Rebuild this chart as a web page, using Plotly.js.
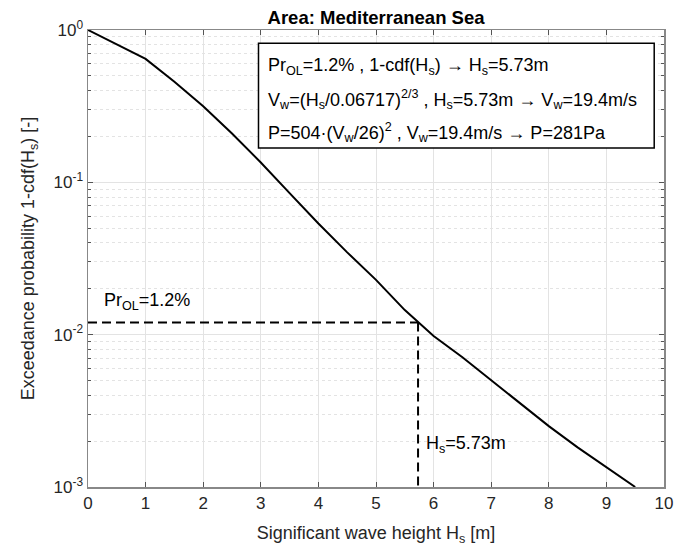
<!DOCTYPE html>
<html>
<head>
<meta charset="utf-8">
<script src="https://cdn.plot.ly/plotly-3.0.1.min.js"></script>
<style>html,body{margin:0;padding:0;background:#fff}#chart{width:690px;height:547px}</style>
</head>
<body>
<div id="chart"></div>
<script>
// Exceedance curve
const hs = [0, 1, 1.5, 2, 2.5, 3, 3.5, 4, 4.5, 5, 5.5, 6, 6.5, 7, 7.5, 8, 8.5, 9, 9.5];
const exceed = [1, 0.646, 0.457, 0.316, 0.209, 0.135, 0.085, 0.0537, 0.0347, 0.0229, 0.0145, 0.0098, 0.0071, 0.0050, 0.00355, 0.00251, 0.00182, 0.00135, 0.001];
const prOL = 0.012;
const hsOL = 5.73;
const yTickVals = [0.001, 0.01, 0.1, 1];
const yTickText = ['10<sup>-3</sup>', '10<sup>-2</sup>', '10<sup>-1</sup>', '10<sup>0</sup>'];
const xTickVals = [0, 1, 2, 3, 4, 5, 6, 7, 8, 9, 10];
const boxLines = [
  'Pr<sub>OL</sub>=1.2% , 1-cdf(H<sub>s</sub>) \u2192 H<sub>s</sub>=5.73m',
  'V<sub>w</sub>=(H<sub>s</sub>/0.06717)<sup>2/3</sup> , H<sub>s</sub>=5.73m \u2192 V<sub>w</sub>=19.4m/s',
  'P=504\u00b7(V<sub>w</sub>/26)<sup>2</sup> , V<sub>w</sub>=19.4m/s \u2192 P=281Pa'
];

const font = 'Liberation Sans, Arial, sans-serif';
const traces = [
  {x: hs, y: exceed, mode: 'lines', line: {color: '#000', width: 2}, hoverinfo: 'skip'},
  {x: [0, hsOL], y: [prOL, prOL], mode: 'lines', line: {color: '#000', width: 2, dash: '9px,5px'}},
  {x: [hsOL, hsOL], y: [prOL, 0.001], mode: 'lines', line: {color: '#000', width: 2, dash: '9px,5px'}}
];

const boxL = 0.296, boxR = 0.983, boxT = 0.971, boxB = 0.742;
const annotations = boxLines.map((t, i) => ({
  xref: 'paper', yref: 'paper', x: boxL + 0.013, y: boxT - 0.05 - i * 0.073,
  xanchor: 'left', yanchor: 'middle', text: t, showarrow: false,
  font: {family: font, size: 18, color: '#000'}
}));
annotations.push({
  x: 0.25, y: Math.log10(0.0165), xref: 'x', yref: 'y', xanchor: 'left', yanchor: 'middle',
  text: 'Pr<sub>OL</sub>=1.2%', showarrow: false, font: {family: font, size: 18, color: '#000'}
});
annotations.push({
  x: hsOL + 0.1, y: Math.log10(0.0019), xref: 'x', yref: 'y', xanchor: 'left', yanchor: 'middle',
  text: 'H<sub>s</sub>=5.73m', showarrow: false, font: {family: font, size: 18, color: '#000'}
});

const layout = {
  width: 690, height: 547,
  margin: {l: 88, r: 26, t: 30, b: 60},
  paper_bgcolor: '#fff', plot_bgcolor: '#fff',
  showlegend: false,
  font: {family: font, size: 17, color: '#262626'},
  title: {text: '<b>Area: Mediterranean Sea</b>', x: 0.545, xanchor: 'center', y: 0.968, yanchor: 'middle',
          font: {family: font, size: 18.5, color: '#000'}},
  xaxis: {
    range: [0, 10], tickvals: xTickVals, ticks: 'inside', ticklen: 5, tickcolor: '#555',
    showline: true, linecolor: '#888', linewidth: 1.5, mirror: 'ticks',
    showgrid: true, gridcolor: '#e3e3e3', gridwidth: 1, zeroline: false,
    tickfont: {family: font, size: 17, color: '#262626'},
    title: {text: 'Significant wave height H<sub>s</sub> [m]', standoff: 14, font: {family: font, size: 18, color: '#262626'}}
  },
  yaxis: {
    type: 'log', range: [-3, 0], tickvals: yTickVals, ticktext: yTickText,
    ticks: 'inside', ticklen: 5, tickcolor: '#555',
    showline: true, linecolor: '#888', linewidth: 1.5, mirror: 'ticks',
    showgrid: true, gridcolor: '#e3e3e3', gridwidth: 1, zeroline: false,
    minor: {ticks: 'inside', ticklen: 3, tickcolor: '#555', showgrid: true, gridcolor: '#e3e3e3', griddash: 'dot', gridwidth: 1,
            tickvals: [0.002,0.003,0.004,0.005,0.006,0.007,0.008,0.009,0.02,0.03,0.04,0.05,0.06,0.07,0.08,0.09,0.2,0.3,0.4,0.5,0.6,0.7,0.8,0.9]},
    tickfont: {family: font, size: 17, color: '#262626'},
    title: {text: 'Exceedance probability 1-cdf(H<sub>s</sub>) [-]', standoff: 14, font: {family: font, size: 18, color: '#262626'}}
  },
  shapes: [{type: 'rect', xref: 'paper', yref: 'paper', x0: boxL, x1: boxR, y0: boxB, y1: boxT,
            line: {color: '#000', width: 1.5}, fillcolor: '#fff', layer: 'above'}],
  annotations: annotations
};

Plotly.newPlot('chart', traces, layout, {displayModeBar: false, staticPlot: true});
</script>
</body>
</html>
